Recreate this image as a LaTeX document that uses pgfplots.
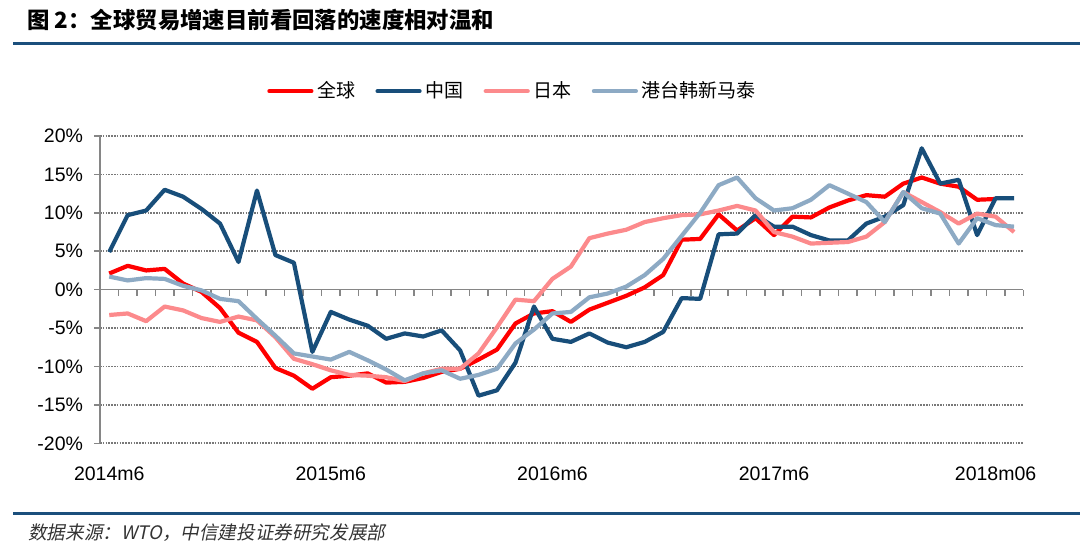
\documentclass[border=0pt]{standalone}
\usepackage{fontspec}
\setmainfont{Liberation Sans}
\newfontfamily\cjk{Noto Sans CJK SC}
\newfontfamily\cjkslant{Noto Sans CJK SC}[FakeSlant=0.2]
\usepackage{pgfplots}
\pgfplotsset{compat=1.18}
\usepackage{pgfplotstable}

\definecolor{cWorld}{RGB}{255,0,0}
\definecolor{cChina}{RGB}{24,78,122}
\definecolor{cJapan}{RGB}{252,138,140}
\definecolor{cOther}{RGB}{141,170,196}
\definecolor{cRule}{RGB}{27,79,124}
\definecolor{cAxis}{RGB}{134,134,134}
\definecolor{cGrid}{RGB}{120,120,120}

% monthly growth, 2014m6 (0) .. 2018m7 (49), in %
\pgfplotstableread{
x  world  china  japan  other
0   2.1    4.9   -3.3    1.7
1   3.1    9.7   -3.1    1.2
2   2.5   10.3   -4.1    1.5
3   2.7   13.0   -2.2    1.4
4   0.8   12.1   -2.7    0.5
5  -0.3   10.5   -3.7   -0.1
6  -2.4    8.6   -4.2   -1.2
7  -5.6    3.6   -3.5   -1.5
8  -6.8   12.9   -4.0   -3.8
9  -10.2   4.5   -6.2   -6.0
10 -11.2   3.5   -9.0   -8.3
11 -12.9  -8.1   -9.7   -8.7
12 -11.4  -2.9  -10.5   -9.1
13 -11.2  -3.9  -11.1   -8.1
14 -10.9  -4.7  -11.2   -9.2
15 -12.1  -6.4  -11.4  -10.4
16 -12.0  -5.7  -11.9  -11.8
17 -11.5  -6.1  -10.9  -10.9
18 -10.7  -5.3  -10.3  -10.5
19 -10.3  -7.9  -10.3  -11.6
20  -9.1 -13.8   -8.3  -11.1
21  -7.8 -13.1   -4.9  -10.3
22  -4.4  -9.5   -1.3   -7.0
23  -3.1  -2.2   -1.5   -5.2
24  -2.8  -6.4    1.4   -3.1
25  -4.2  -6.8    3.0   -2.9
26  -2.6  -5.7    6.7   -1.0
27  -1.7  -6.9    7.3   -0.5
28  -0.8  -7.5    7.8    0.4
29   0.3  -6.8    8.8    1.9
30   1.9  -5.5    9.3    4.0
31   6.5  -1.1    9.7    7.0
32   6.6  -1.2    9.8   10.0
33   9.8   7.2   10.3   13.6
34   7.7   7.3   10.9   14.6
35   9.3   9.7   10.3   11.9
36   7.1   8.2    7.5   10.3
37   9.5   8.2    6.9   10.6
38   9.4   7.1    6.0   11.7
39  10.7   6.4    6.1   13.6
40  11.6   6.4    6.2   12.5
41  12.3   8.6    6.9   11.4
42  12.1   9.5    8.8    8.8
43  13.8  11.0   12.7   12.7
44  14.6  18.4   11.4   10.6
45  13.8  13.8   10.1    9.9
46  13.4  14.3    8.6    6.0
47  11.7   7.1    9.9    9.3
48  11.8  11.9    9.5    8.4
49   nan  11.9    7.5    8.2
}\tradedata

\begin{document}
\begin{tikzpicture}
\path[use as bounding box] (0,0) rectangle (540bp,275bp);

% title and rules
\node[anchor=west, inner sep=0pt, font=\cjk\bfseries\fontsize{11.2bp}{13bp}\selectfont]
  at (13.5bp,265bp) {图 2：全球贸易增速目前看回落的速度相对温和};
\draw[cRule, line width=1.7bp] (6.5bp,253.3bp) -- (540bp,253.3bp);
\draw[cRule, line width=1.5bp] (6.5bp,18.3bp) -- (540bp,18.3bp);
\node[anchor=west, inner sep=0pt, text=black!80, font=\cjkslant\fontsize{9.3bp}{11bp}\selectfont]
  at (14bp,8.5bp) {数据来源：WTO，中信建投证券研究发展部};

\begin{axis}[
  at={(50bp,53.35bp)}, anchor=south west,
  width=461.65bp, height=153.65bp, scale only axis,
  xmin=-0.5, xmax=49.5, ymin=-20, ymax=20,
  axis x line*=middle, axis y line*=left,
  hide obscured x ticks=false,
  axis line style={cAxis, line width=0.75bp},
  xtick={-0.5,0.5,...,49.5},
  xticklabels={2014m6,,,,,,,,,,,,2015m6,,,,,,,,,,,,2016m6,,,,,,,,,,,,2017m6,,,,,,,,,,,,2018m06},
  ytick={-20,-15,...,20},
  yticklabels={-20\%,-15\%,-10\%,-5\%,0\%,5\%,10\%,15\%,20\%},
  tick style={cAxis, line width=0.75bp},
  tick align=outside, major tick length=3bp,
  ymajorgrids, xmajorgrids=false,
  grid style={cGrid, dash pattern=on 0.8bp off 0.6bp, line width=0.8bp},
  ticklabel style={font=\fontsize{9.75bp}{11bp}\selectfont, text=black},
  x tick label style={anchor=north, xshift=4.62bp, yshift=-82bp},
  y tick label style={xshift=-2bp},
  legend columns=-1,
  legend style={draw=none, fill=none, at={(0.448,1.146)}, anchor=center,
    font=\cjk\fontsize{9.5bp}{11bp}\selectfont,
    /tikz/every even column/.append style={column sep=8bp}},
  legend image code/.code={\draw[#1, line cap=round] (0bp,0bp) -- (21bp,0bp);},
]
\addplot[cWorld, line width=2.1bp, line join=round] table[x=x, y=world] {\tradedata};
\addlegendentry{全球}
\addplot[cChina, line width=2.1bp, line join=round] table[x=x, y=china] {\tradedata};
\addlegendentry{中国}
\addplot[cJapan, line width=2.1bp, line join=round] table[x=x, y=japan] {\tradedata};
\addlegendentry{日本}
\addplot[cOther, line width=2.1bp, line join=round] table[x=x, y=other] {\tradedata};
\addlegendentry{港台韩新马泰}
\end{axis}
\end{tikzpicture}
\end{document}
